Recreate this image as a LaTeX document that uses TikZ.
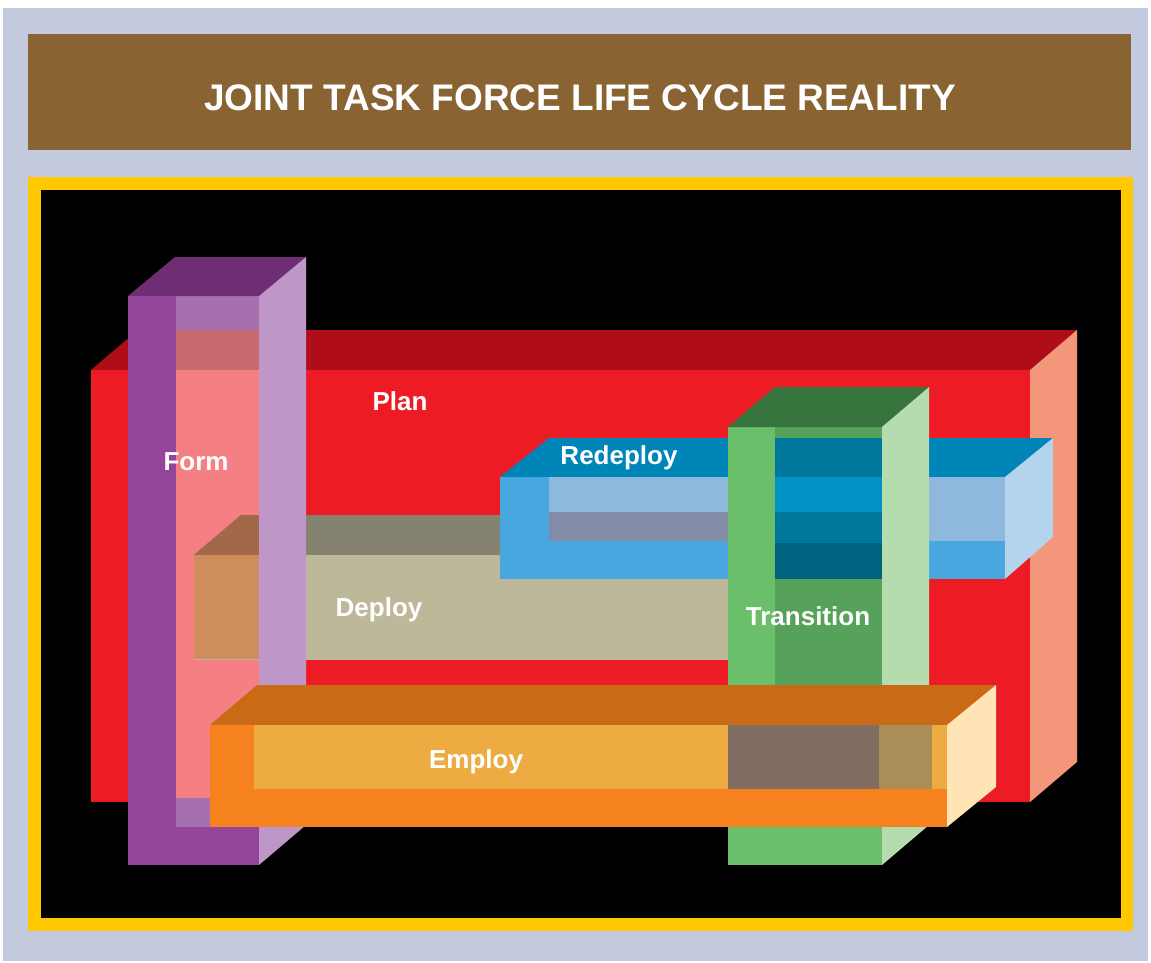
\documentclass[tikz,border=0pt]{standalone}
\usepackage{fontspec}
\setmainfont{Liberation Sans}
\definecolor{bgblue}{HTML}{C3CADD}
\definecolor{titlebrown}{HTML}{8A6333}
\definecolor{frameyellow}{HTML}{FFC800}
\definecolor{planfront}{HTML}{ED1C24}
\definecolor{plantop}{HTML}{AF0E18}
\definecolor{planside}{HTML}{F4967A}
\definecolor{formbar}{HTML}{93459A}
\definecolor{formtop}{HTML}{6F2D74}
\definecolor{formside}{HTML}{BE96C8}
\definecolor{formlav}{HTML}{A66FAE}
\definecolor{formrose}{HTML}{C96B6E}
\definecolor{formpink}{HTML}{F48084}
\definecolor{deptopin}{HTML}{A3674A}
\definecolor{depfrontin}{HTML}{CF8C5C}
\definecolor{deptop}{HTML}{858270}
\definecolor{depfront}{HTML}{BDB89A}
\definecolor{redtop}{HTML}{0085B8}
\definecolor{redfront}{HTML}{49A7DF}
\definecolor{redinner}{HTML}{8FB9DC}
\definecolor{redgrey}{HTML}{828CA9}
\definecolor{redside}{HTML}{B4D4EE}
\definecolor{trbar}{HTML}{6BBF6B}
\definecolor{trmid}{HTML}{57A25A}
\definecolor{trtop}{HTML}{37733C}
\definecolor{trside}{HTML}{B4DCAE}
\definecolor{trsA}{HTML}{00789E}
\definecolor{trsB}{HTML}{0092C2}
\definecolor{trsC}{HTML}{00779D}
\definecolor{trsD}{HTML}{00627F}
\definecolor{emtop}{HTML}{C96A16}
\definecolor{emfront}{HTML}{F5821F}
\definecolor{eminner}{HTML}{EDAC42}
\definecolor{embrown}{HTML}{826D62}
\definecolor{emtan}{HTML}{AB8D57}
\definecolor{emside}{HTML}{FFE4B5}
\tikzset{
  lbl/.style={text=white, font=\fontsize{26}{30}\selectfont\bfseries, anchor=base, inner sep=0pt},
  titletext/.style={text=white, font=\fontsize{37}{42}\selectfont\bfseries, inner sep=0pt, anchor=base}
}
\begin{document}
\begin{tikzpicture}[x=1pt,y=-1pt]
\useasboundingbox (0,0) rectangle (1151,962);
\fill[white] (0,0) rectangle (1151,962);
\fill[bgblue] (3,8) rectangle (1148,961);
% title
\fill[titlebrown] (28,34) rectangle (1131,150);
\node[titletext] (title) at (580,110) {JOINT TASK FORCE LIFE CYCLE REALITY};
% frame
\fill[frameyellow] (28,177) rectangle (1133,931);
\fill[black] (41,190) rectangle (1121,918);
% Plan
\fill[plantop] (91,370) -- (138,330) -- (1077,330) -- (1030,370) -- cycle;
\fill[planside] (1030,370) -- (1077,330) -- (1077,762) -- (1030,802) -- cycle;
\fill[planfront] (91,370) rectangle (1030,802);
% Form interior
\fill[formlav] (176,296) rectangle (259,330);
\fill[formrose] (176,330) rectangle (259,370);
\fill[formpink] (176,370) rectangle (259,798);
\fill[formlav] (176,798) rectangle (259,827);
% Deploy
\fill[deptop] (194,555) -- (241,515) -- (800,515) -- (800,555) -- cycle;
\fill[depfront] (194,555) rectangle (800,660);
\fill[deptopin] (194,555) -- (241,515) -- (259,515) -- (259,555) -- cycle;
\fill[depfrontin] (194,555) rectangle (259,659);
% Form bars
\fill[formbar] (128,296) rectangle (176,865);
\fill[formbar] (128,827) rectangle (259,865);
\fill[formtop] (128,296) -- (175,257) -- (306,257) -- (259,296) -- cycle;
\fill[formside] (259,296) -- (306,257) -- (306,825) -- (259,865) -- cycle;
% Redeploy
\fill[redtop] (500,477) -- (549,438) -- (1053,438) -- (1005,477) -- cycle;
\fill[redfront] (500,477) rectangle (1005,579);
\fill[redinner] (549,477) rectangle (1005,541);
\fill[redgrey] (549,512) rectangle (760,541);
\fill[redside] (1005,477) -- (1053,438) -- (1053,537) -- (1005,579) -- cycle;
% Transition
\fill[trbar] (728,427) rectangle (882,865);
\fill[trmid] (775,427) rectangle (882,827);
\fill[trsA] (775,438) rectangle (882,477);
\fill[trsB] (775,477) rectangle (882,512);
\fill[trsC] (775,512) rectangle (882,543);
\fill[trsD] (775,543) rectangle (882,579);
\fill[trtop] (728,427) -- (775,387) -- (929,387) -- (882,427) -- cycle;
\fill[trside] (882,427) -- (929,387) -- (929,825) -- (882,865) -- cycle;
% Employ
\fill[emtop] (210,725) -- (257,685) -- (996,685) -- (947,725) -- cycle;
\fill[emfront] (210,725) rectangle (947,827);
\fill[eminner] (254,725) rectangle (947,789);
\fill[embrown] (728,725) rectangle (879,789);
\fill[emtan] (879,725) rectangle (932,789);
\fill[emside] (947,725) -- (996,685) -- (996,787) -- (947,827) -- cycle;
% labels
\node[lbl] (plan) at (400,410) {Plan};
\node[lbl] (form) at (196,470) {Form};
\node[lbl] (redeploy) at (619,464) {Redeploy};
\node[lbl] (deploy) at (379,616) {Deploy};
\node[lbl] (transition) at (808,625) {Transition};
\node[lbl] (employ) at (476,768) {Employ};
\end{tikzpicture}
\end{document}
